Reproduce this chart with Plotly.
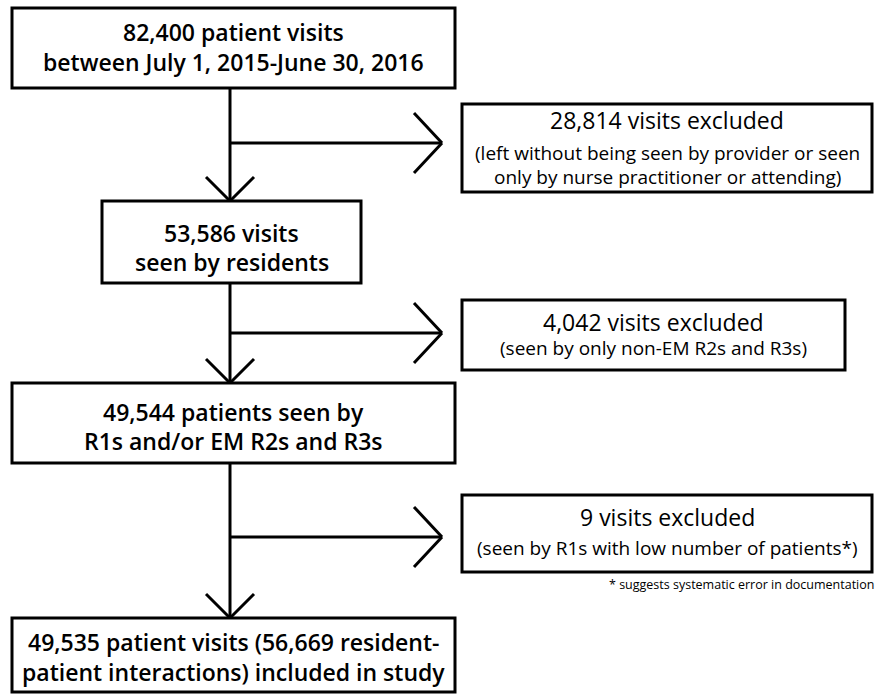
import plotly.graph_objects as go

# ---- data (flow counts and texts) ----
main_counts = ["82,400", "53,586", "49,544", "49,535"]
main_lines = [
    ["82,400 patient visits", "between July 1, 2015-June 30, 2016"],
    ["53,586 visits", "seen by residents"],
    ["49,544 patients seen by", "R1s and/or EM R2s and R3s"],
    ["49,535 patient visits (56,669 resident-", "patient interactions) included in study"],
]
excl_counts = ["28,814", "4,042", "9"]
excl_titles = ["28,814 visits excluded", "4,042 visits excluded", "9 visits excluded"]
excl_details = [
    ["(left without being seen by provider or seen", "only by nurse practitioner or attending)"],
    ["(seen by only non-EM R2s and R3s)"],
    ["(seen by R1s with low number of patients*)"],
]
footnote = "* suggests systematic error in documentation"

# ---- geometry (layout only, page pixel coordinates) ----
W, H = 878, 695
main_boxes = [(12, 8, 455, 88), (102, 201, 361, 283), (12, 383, 455, 463), (12, 618, 455, 692)]
main_text_y = [[32, 62], [233, 262], [412, 441], [642, 672]]
excl_boxes = [(462, 104, 872, 192), (462, 300, 845, 370), (462, 495, 872, 572)]
excl_title_y = [120, 322, 517]
excl_detail_y = [[153, 177], [348], [548]]
branch_y = [143, 333, 537]
spine_x = 230
tip_x = 442

LW = 3
FONT = "Open Sans"
shapes = []
ann = []

def line(x0, y0, x1, y1):
    shapes.append(dict(type="line", x0=x0, y0=y0, x1=x1, y1=y1, xref="x", yref="y",
                       line=dict(color="black", width=LW)))

def rect(b):
    shapes.append(dict(type="rect", x0=b[0], y0=b[1], x1=b[2], y1=b[3], xref="x", yref="y",
                       line=dict(color="black", width=LW), fillcolor="white"))

def text(x, y, s, size, weight="normal", xanchor="center"):
    ann.append(dict(x=x, y=y, xref="x", yref="y", text=s, showarrow=False,
                    xanchor=xanchor, yanchor="middle",
                    font=dict(family=FONT, size=size, color="black", weight=weight)))

for i, b in enumerate(main_boxes):
    rect(b)
    cx = (b[0] + b[2]) / 2
    for s, y in zip(main_lines[i], main_text_y[i]):
        text(cx, y, s, 23, weight=600)

for i, b in enumerate(excl_boxes):
    rect(b)
    cx = (b[0] + b[2]) / 2
    text(cx, excl_title_y[i], excl_titles[i], 23)
    for s, y in zip(excl_details[i], excl_detail_y[i]):
        text(cx, y, s, 19)

# arrows
for i in range(3):
    top = main_boxes[i][3]
    bot = main_boxes[i + 1][1]
    by = branch_y[i]
    line(spine_x, top, spine_x, bot)
    line(spine_x, by, tip_x, by)
    line(tip_x - 28, by - 30, tip_x, by)
    line(tip_x - 28, by + 30, tip_x, by)
    line(spine_x - 24, bot - 24, spine_x, bot)
    line(spine_x + 24, bot - 24, spine_x, bot)

text(876, 584, footnote, 12.5, xanchor="right")

fig = go.Figure()
fig.update_layout(
    width=W, height=H, margin=dict(l=0, r=0, t=0, b=0),
    paper_bgcolor="white", plot_bgcolor="white",
    xaxis=dict(range=[0, W], visible=False, fixedrange=True),
    yaxis=dict(range=[H, 0], visible=False, fixedrange=True),
    shapes=shapes, annotations=ann, showlegend=False,
)
fig.write_html(
    "out.html",
    config={"displayModeBar": False},
    post_script="document.body.style.margin='0';document.body.style.overflow='hidden';",
)
